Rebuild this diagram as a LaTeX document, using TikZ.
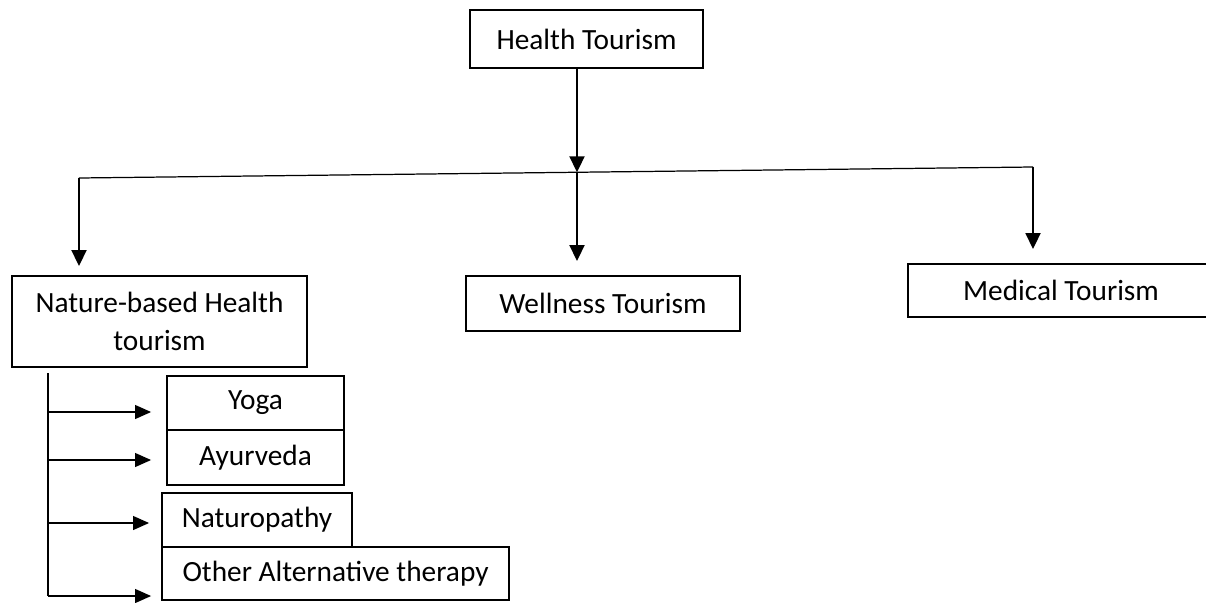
\documentclass[tikz,border=0pt]{standalone}
\usepackage{fontspec}
\setmainfont{Carlito}
\usetikzlibrary{arrows.meta,positioning,calc}
\tikzset{
  box/.style   ={draw,line width=1.1pt,inner sep=0pt,align=center,
                 font=\fontsize{16.7}{21.6}\selectfont},
  bar/.style   ={line width=0.7pt},
  down/.style  ={-{Triangle[length=0.32cm,width=0.3cm]},line width=1.1pt},
  sub/.style   ={-{Triangle[length=0.32cm,width=0.28cm]},line width=0.65pt},
}

\begin{document}
\begin{tikzpicture}[x=0.02cm,y=-0.02cm]
    \useasboundingbox (0,0) rectangle (1206,602);

    % main categories
    \node[box,minimum width=4.66cm,minimum height=1.16cm] (top) at (586.5,39) {Health Tourism};
    \node[box,minimum width=5.9cm,minimum height=1.82cm] (nat) at (159.5,321.5) {Nature-based Health\\tourism};
    \node[box,minimum width=5.48cm,minimum height=1.1cm] (wel) at (603,303.5) {Wellness Tourism};
    \node[box,minimum width=6.12cm,minimum height=1.06cm] (med) at (1061,290.5) {Medical Tourism};

    % nature-based therapies
    \node[box,minimum width=3.54cm,minimum height=1.08cm] (yoga)  at (255.5,403)   {Yoga};
    \node[box,minimum width=3.54cm,minimum height=1.1cm]  (ayur)  at (255.5,457.5) {Ayurveda};
    \node[box,minimum width=3.8cm,minimum height=1.08cm]  (natu)  at (257,520)     {Naturopathy};
    \node[box,minimum width=6.94cm,minimum height=1.06cm] (other) at (335.5,573.5) {Other Alternative therapy};

    % branching bar
    \coordinate (lbar) at (79,178);
    \coordinate (rbar) at (1033,167);
    \coordinate (hub)  at (577,172.3);
    \draw[bar] (lbar) -- (rbar);
    \draw[down] (top.south -| hub) -- (hub);
    \draw[down,shorten >=0.18cm] (lbar) -- (lbar |- nat.north);
    \draw[down,shorten >=0.28cm] (hub)  -- (hub |- wel.north);
    \draw[down,shorten >=0.28cm] (rbar) -- (rbar |- med.north);

    % trunk with sub arrows
    \foreach \n/\yy/\gap in {yoga/412/0.3cm,ayur/460/0.3cm,natu/523/0.24cm,other/596/0.2cm}{
      \coordinate (t\n) at (48,\yy);
      \draw[sub,shorten >=\gap] (t\n) -- (t\n -| \n.west);
    }
    \coordinate (ttop) at (48,373);
    \draw[sub,-] (ttop) -- (tother);
\end{tikzpicture}
\end{document}
